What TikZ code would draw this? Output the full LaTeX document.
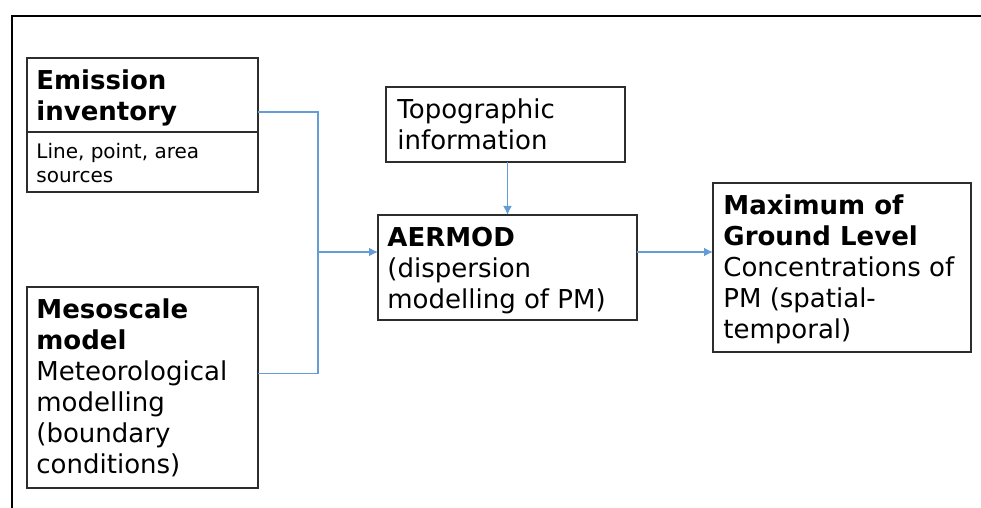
\documentclass[tikz,border=0pt]{standalone}
\usepackage{fontspec}
\setmainfont{DejaVu Sans}
\usetikzlibrary{arrows.meta,positioning,calc}
\definecolor{flBlue}{RGB}{100,156,214}
\definecolor{bxGrey}{RGB}{45,45,45}

\begin{document}
\begin{tikzpicture}[x=0.5pt,y=-0.5pt,
  >={Latex[length=4.5pt,width=4.5pt]},
  box/.style={draw=bxGrey,line width=1pt,inner sep=0pt,outer sep=0pt},
  txt/.style={anchor=north west,inner sep=0pt,align=left,
              font=\fontsize{13}{15.5}\selectfont},
  small/.style={txt,font=\fontsize{10}{12}\selectfont},
  flow/.style={draw=flBlue,line width=0.9pt}
]
\useasboundingbox (0,0) rectangle (981,508);
\draw[line width=1pt] (12,508) -- (12,16) -- (981,16);

% boxes
\node[box,minimum width=115.5pt,minimum height=37pt]   (emisHead) at (142.5,95)  {};
\node[box,minimum width=115.5pt,minimum height=30pt]   (emisBody) at (142.5,162) {};
\node[box,minimum width=115.5pt,minimum height=100.5pt](meso)     at (142.5,387.5) {};
\node[box,minimum width=119.5pt,minimum height=37.5pt] (topo)     at (505.5,124.5) {};
\node[box,minimum width=129.5pt,minimum height=52.5pt] (aermod)   at (507.5,267.5) {};
\node[box,minimum width=129pt,minimum height=84.5pt]   (maxgl)    at (842,267.5) {};

% texts
\node[txt]   (emisTxt) at ([shift={(4.5pt,-4.5pt)}]emisHead.north west)
  {\strut\bfseries Emission\\\bfseries inventory};
\node[small] (srcTxt)  at ([shift={(4.5pt,-4.5pt)}]emisBody.north west)
  {\strut Line, point, area\\sources};
\node[txt]   (mesoTxt) at ([shift={(4.5pt,-4.5pt)}]meso.north west)
  {\strut\textbf{Mesoscale}\\\textbf{model}\\Meteorological\\modelling\\(boundary\\conditions)};
\node[txt]   (topoTxt) at ([shift={(5.5pt,-4.5pt)}]topo.north west)
  {\strut Topographic\\information};
\node[txt]   (aerTxt)  at ([shift={(4.5pt,-4.5pt)}]aermod.north west)
  {\strut\textbf{AERMOD}\\(dispersion\\modelling of PM)};
\node[txt]   (maxTxt)  at ([shift={(5pt,-4.5pt)}]maxgl.north west)
  {\strut\textbf{Maximum of}\\\textbf{Ground Level}\\Concentrations of\\PM (spatial-\\temporal)};

% connectors
\coordinate (jn) at (318,252);
\draw[flow] ([yshift=-27pt]emisHead.north east) -| (jn);
\draw[flow] ([yshift=7pt]meso.east) -| (jn);
\draw[flow,->] (jn) -- (jn -| aermod.west);
\draw[flow,->] (aermod.north |- topo.south) -- (aermod.north);
\draw[flow,->] (jn -| aermod.east) -- (jn -| maxgl.west);
\end{tikzpicture}
\end{document}
